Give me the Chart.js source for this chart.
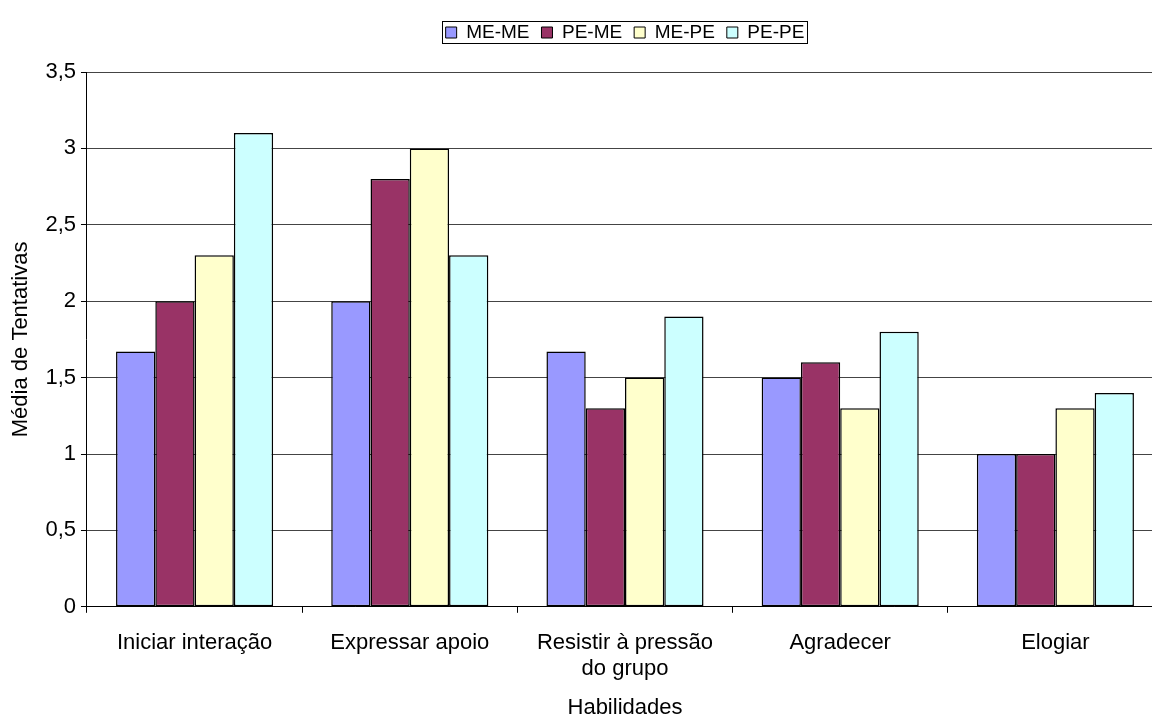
<!DOCTYPE html>
<html><head><meta charset="utf-8">
<script src="https://cdn.jsdelivr.net/npm/chart.js@4"></script>
<style>html,body{margin:0;padding:0;background:#fff;overflow:hidden}#wrap{position:absolute;left:0;top:0;width:1163px;height:718px}</style>
</head><body><div id="wrap"><canvas id="c"></canvas></div>
<script>
const categories = ['Iniciar interação', 'Expressar apoio', ['Resistir à pressão', 'do grupo'], 'Agradecer', 'Elogiar'];
const seriesNames = ['ME-ME', 'PE-ME', 'ME-PE', 'PE-PE'];
const meMe = [1.67, 2.0, 1.67, 1.5, 1.0];
const peMe = [2.0, 2.8, 1.3, 1.6, 1.0];
const mePe = [2.3, 3.0, 1.5, 1.3, 1.3];
const pePe = [3.1, 2.3, 1.9, 1.8, 1.4];
const yTickLabels = ['0', '0,5', '1', '1,5', '2', '2,5', '3', '3,5'];
const colors = ['#9999FF', '#993366', '#FFFFCC', '#CCFFFF'];
const FONT = "'Liberation Sans', Arial, sans-serif";

const legendPlugin = {
  id: 'legendFrame',
  beforeLayout(chart) {
    const l = chart.legend;
    if (l && !l._extraPatched) {
      const f = l.fit.bind(l);
      l.fit = function () { f(); this.height += 20; };
      l._extraPatched = true;
    }
  },
  afterLayout(chart) {
    const l = chart.legend, ca = chart.chartArea;
    if (!l) return;
    const d = (ca.left + ca.right) / 2 - (l.left + l.right) / 2;
    l.left += d; l.right += d;
  },
  afterDraw(chart) {
    const l = chart.legend;
    if (!l || !l.legendHitBoxes || !l.legendHitBoxes.length) return;
    const hb = l.legendHitBoxes;
    let x0 = Infinity, x1 = -Infinity, y0 = Infinity, y1 = -Infinity;
    hb.forEach(h => { x0 = Math.min(x0, h.left); x1 = Math.max(x1, h.left + h.width); y0 = Math.min(y0, h.top); y1 = Math.max(y1, h.top + h.height); });
    const ctx = chart.ctx;
    ctx.save();
    ctx.strokeStyle = '#000';
    ctx.lineWidth = 1;
    ctx.strokeRect(Math.round(x0 - 4) + 0.5, Math.round(y0 - 2) + 0.5, Math.round(x1 - x0 + 6), Math.round(y1 - y0 + 3));
    ctx.restore();
  }
};

const datasets = [meMe, peMe, mePe, pePe].map((vals, i) => ({
  label: seriesNames[i],
  data: vals,
  backgroundColor: colors[i],
  borderColor: '#000',
  borderWidth: 1.5,
  borderSkipped: false,
  categoryPercentage: 0.73,
  barPercentage: 1.0
}));

new Chart(document.getElementById('c'), {
  type: 'bar',
  data: { labels: categories, datasets },
  plugins: [legendPlugin],
  options: {
    responsive: true,
    maintainAspectRatio: false,
    animation: false,
    layout: { padding: { left: 8, top: 11, right: 0, bottom: -3 } },
    plugins: {
      legend: {
        position: 'top',
        labels: {
          font: { family: FONT, size: 19 },
          color: '#000',
          boxWidth: 11,
          boxHeight: 11,
          padding: 12,
          generateLabels(chart) {
            return chart.data.datasets.map((ds, i) => ({
              text: ds.label, fillStyle: ds.backgroundColor, strokeStyle: '#000',
              lineWidth: 1, hidden: false, datasetIndex: i, fontColor: '#000'
            }));
          }
        }
      },
      tooltip: { enabled: false }
    },
    scales: {
      x: {
        offset: true,
        grid: { display: true, drawOnChartArea: false, offset: true, color: '#000', tickLength: 6 },
        border: { color: '#000', width: 1 },
        ticks: { font: { family: FONT, size: 22 }, color: '#000', padding: 17, maxRotation: 0, autoSkip: false },
        title: { display: true, text: 'Habilidades', font: { family: FONT, size: 22 }, color: '#000', padding: { top: -5, bottom: 0 } }
      },
      y: {
        min: 0, max: 3.5,
        ticks: {
          stepSize: 0.5, font: { family: FONT, size: 22 }, color: '#000', padding: 5,
          callback: (v, i) => yTickLabels[i]
        },
        grid: { color: '#444', lineWidth: 1, tickLength: 6, tickColor: '#000' },
        border: { color: '#000', width: 1 },
        title: { display: true, text: 'Média de Tentativas', font: { family: FONT, size: 22 }, color: '#000', padding: { top: 0, bottom: 6 } }
      }
    }
  }
});
</script></body></html>
